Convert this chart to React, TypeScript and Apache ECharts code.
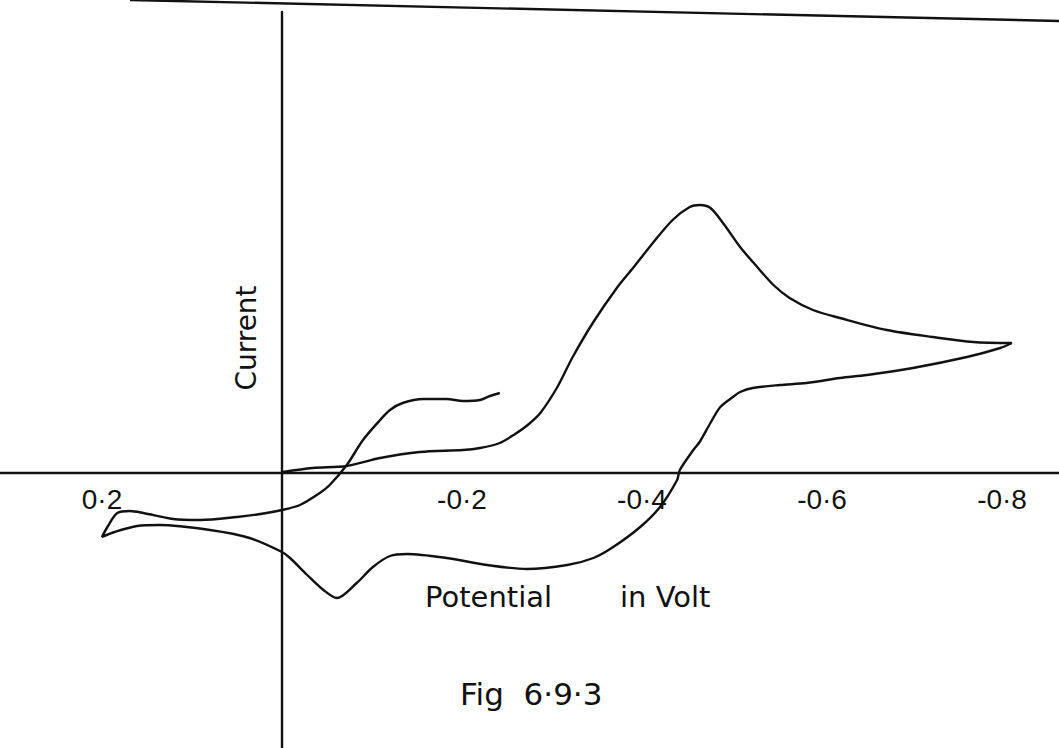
import React, { useEffect, useRef } from "react";
import * as echarts from "echarts";

// Potential axis ticks (V) and their hand-lettered labels
const tickValues = [0.2, -0.2, -0.4, -0.6, -0.8];
const tickLabels = ["0·2", "-0·2", "-0·4", "-0·6", "-0·8"];

// Forward (cathodic) scan: potential (V) and current (arbitrary units)
const forwardPotential = [
  -0.001, -0.034, -0.072, -0.109, -0.153, -0.201, -0.22, -0.242, -0.259, -0.273,
  -0.287, -0.306, -0.323, -0.346, -0.372, -0.39, -0.412, -0.434, -0.453, -0.464,
  -0.476, -0.49, -0.509, -0.528, -0.546, -0.564, -0.59, -0.62, -0.672, -0.723,
  -0.768, -0.811,
];
const forwardCurrent = [
  0.01, 0.05, 0.07, 0.15, 0.21, 0.23, 0.25, 0.3, 0.39, 0.48,
  0.6, 0.86, 1.16, 1.51, 1.85, 2.05, 2.3, 2.53, 2.66, 2.68,
  2.65, 2.5, 2.26, 2.06, 1.88, 1.75, 1.63, 1.55, 1.43, 1.36,
  1.31, 1.3,
];

// Reverse (anodic) scan and second sweep
const reversePotential = [
  -0.811, -0.798, -0.761, -0.701, -0.65, -0.62, -0.583, -0.553, -0.523, -0.509,
  -0.501, -0.487, -0.476, -0.464, -0.457, -0.442, -0.439, -0.42, -0.398, -0.368,
  -0.346, -0.317, -0.272, -0.228, -0.183, -0.139, -0.12, -0.101, -0.083, -0.061,
  -0.046, -0.028, -0.009, 0.0, 0.036, 0.08, 0.136, 0.161, 0.186, 0.2,
  0.194, 0.183, 0.169, 0.154, 0.121, 0.091, 0.05, 0.024, 0.0, -0.02,
  -0.042, -0.053, -0.072, -0.09, -0.109, -0.12, -0.134, -0.157, -0.183, -0.201,
  -0.22, -0.231, -0.242,
];
const reverseCurrent = [
  1.3, 1.25, 1.16, 1.05, 0.98, 0.95, 0.9, 0.88, 0.85, 0.81,
  0.76, 0.66, 0.5, 0.31, 0.23, 0.03, -0.07, -0.34, -0.54, -0.74,
  -0.85, -0.92, -0.96, -0.92, -0.85, -0.81, -0.83, -0.94, -1.1, -1.25,
  -1.17, -1.02, -0.85, -0.79, -0.65, -0.57, -0.52, -0.53, -0.59, -0.64,
  -0.54, -0.4, -0.38, -0.4, -0.46, -0.47, -0.44, -0.41, -0.37, -0.32,
  -0.2, -0.12, 0.08, 0.33, 0.53, 0.63, 0.7, 0.74, 0.74, 0.72,
  0.73, 0.77, 0.8,
];

const X_LEFT = 0.3133;
const X_RIGHT = -0.8633;
const Y_MIN = -2.75;
const Y_MAX = 4.61;

const INK = "#111111";

export default function App() {
  const ref = useRef<HTMLDivElement>(null);

  useEffect(() => {
    if (!ref.current) return;
    const chart = echarts.init(ref.current, null, { renderer: "svg" });

    const fwd = forwardPotential.map((v, i) => [v, forwardCurrent[i]]);
    const rev = reversePotential.map((v, i) => [v, reverseCurrent[i]]);

    const labelFor = (v: number) => {
      const i = tickValues.findIndex((t) => Math.abs(t - v) < 1e-6);
      return i >= 0 ? tickLabels[i] : "";
    };

    const lineStyle = { color: INK, width: 2.4 };

    // grid height 736 spans Y_MIN..Y_MAX; shift the potential axis up to current = 0
    const gridTop = 12;
    const gridHeight = 748 - gridTop;
    const zeroOffset = -(Y_MIN / (Y_MIN - Y_MAX)) * gridHeight;

    chart.setOption({
      animation: false,
      backgroundColor: "#ffffff",
      grid: {
        left: 0,
        right: 0,
        top: gridTop,
        bottom: 0,
        containLabel: false,
        outerBoundsMode: "none",
      },
      xAxis: {
        type: "value",
        inverse: true,
        min: X_RIGHT,
        max: X_LEFT,
        position: "bottom",
        offset: -(-zeroOffset),
        axisLine: { show: true, onZero: false, lineStyle: { color: INK, width: 2.4 } },
        axisTick: { show: false },
        splitLine: { show: false },
        axisLabel: {
          show: true,
          customValues: tickValues,
          formatter: (v: number) => labelFor(v),
          color: INK,
          fontSize: 28,
          fontFamily: "Liberation Sans",
          margin: 12,
        },
      },
      yAxis: {
        type: "value",
        min: Y_MIN,
        max: Y_MAX,
        axisLine: { show: true, onZero: true, lineStyle: { color: INK, width: 2.4 } },
        axisTick: { show: false },
        axisLabel: { show: false },
        splitLine: { show: false },
      },
      series: [
        {
          type: "line",
          name: "forward",
          data: fwd,
          showSymbol: false,
          smooth: 0.3,
          lineStyle,
        },
        {
          type: "line",
          name: "reverse",
          data: rev,
          showSymbol: false,
          smooth: 0.3,
          lineStyle,
        },
      ],
      graphic: [
        {
          type: "line",
          shape: { x1: 130, y1: 0, x2: 1059, y2: 21 },
          style: { stroke: INK, lineWidth: 2.4 },
        },
        {
          type: "text",
          x: 246,
          y: 338,
          rotation: Math.PI / 2,
          style: {
            text: "Current",
            fill: INK,
            font: "28px 'DejaVu Sans'",
            textAlign: "center",
            textVerticalAlign: "middle",
          },
        },
        {
          type: "text",
          x: 425,
          y: 597,
          style: {
            text: "Potential",
            fill: INK,
            font: "29px 'DejaVu Sans'",
            textAlign: "left",
            textVerticalAlign: "middle",
          },
        },
        {
          type: "text",
          x: 620,
          y: 597,
          style: {
            text: "in Volt",
            fill: INK,
            font: "29px 'DejaVu Sans'",
            textAlign: "left",
            textVerticalAlign: "middle",
          },
        },
        {
          type: "text",
          x: 460,
          y: 694,
          style: {
            text: "Fig  6·9·3",
            fill: INK,
            font: "31px 'DejaVu Sans'",
            textAlign: "left",
            textVerticalAlign: "middle",
          },
        },
      ],
    });

    return () => chart.dispose();
  }, []);

  return (
    <div
      ref={ref}
      style={{ position: "fixed", left: 0, top: 0, width: 1059, height: 748, background: "#fff" }}
    />
  );
}
